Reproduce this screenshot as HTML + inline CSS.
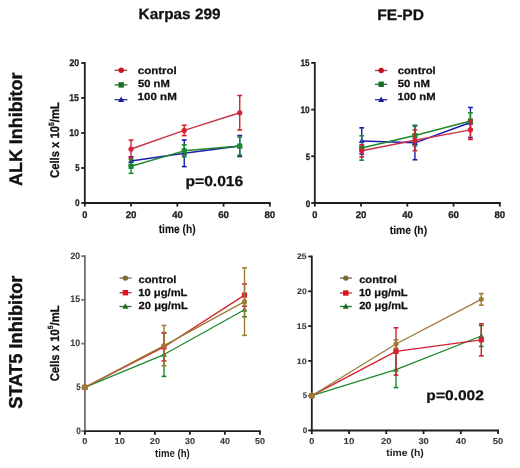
<!DOCTYPE html>
<html><head><meta charset="utf-8"><style>
html,body{margin:0;padding:0;background:#fff;}
svg{display:block;font-family:"Liberation Sans",sans-serif;filter:blur(0.35px);text-rendering:geometricPrecision;}
</style></head><body>
<svg width="520" height="468" viewBox="0 0 520 468">
<rect width="520" height="468" fill="#fff"/>
<text x="138.60" y="19.20" font-size="15.00" font-weight="bold" fill="#111" stroke="#111" stroke-width="0.25" textLength="81.97" lengthAdjust="spacingAndGlyphs">Karpas 299</text>
<text x="377.19" y="19.70" font-size="15.22" font-weight="bold" fill="#111" stroke="#111" stroke-width="0.25" textLength="46.84" lengthAdjust="spacingAndGlyphs">FE-PD</text>
<text transform="translate(22.20,185.50) rotate(-90)" x="-0.45" y="0" font-size="18.21" font-weight="bold" fill="#111" stroke="#111" stroke-width="0.35" textLength="113.36" lengthAdjust="spacingAndGlyphs">ALK Inhibitor</text>
<text transform="translate(22.00,408.20) rotate(-90)" x="-0.55" y="0" font-size="18.62" font-weight="bold" fill="#111" stroke="#111" stroke-width="0.35" textLength="133.23" lengthAdjust="spacingAndGlyphs">STAT5 Inhibitor</text>
<text transform="translate(58.80,177.50) rotate(-90) scale(0.8981,1)" x="-0.50" y="0" font-size="12.55" font-weight="bold" fill="#111" stroke="#111" stroke-width="0.3">Cells x 10<tspan font-size="7.53" dy="-5.27">5</tspan><tspan dy="5.27">/mL</tspan></text>
<text transform="translate(58.70,380.90) rotate(-90) scale(0.9105,1)" x="-0.50" y="0" font-size="12.41" font-weight="bold" fill="#111" stroke="#111" stroke-width="0.3">Cells x 10<tspan font-size="7.45" dy="-5.21">5</tspan><tspan dy="5.21">/mL</tspan></text>
<line x1="84.8" y1="62.10" x2="84.8" y2="203.00" stroke="#1e1e1e" stroke-width="1.8"/>
<line x1="83.90" y1="203" x2="270.70" y2="203" stroke="#1e1e1e" stroke-width="1.8"/>
<line x1="81.20" y1="203.00" x2="84.80" y2="203.00" stroke="#1e1e1e" stroke-width="1.8"/>
<line x1="81.20" y1="168.00" x2="84.80" y2="168.00" stroke="#1e1e1e" stroke-width="1.8"/>
<line x1="81.20" y1="133.00" x2="84.80" y2="133.00" stroke="#1e1e1e" stroke-width="1.8"/>
<line x1="81.20" y1="98.00" x2="84.80" y2="98.00" stroke="#1e1e1e" stroke-width="1.8"/>
<line x1="81.20" y1="63.00" x2="84.80" y2="63.00" stroke="#1e1e1e" stroke-width="1.8"/>
<line x1="84.80" y1="203.00" x2="84.80" y2="206.60" stroke="#1e1e1e" stroke-width="1.8"/>
<line x1="131.05" y1="203.00" x2="131.05" y2="206.60" stroke="#1e1e1e" stroke-width="1.8"/>
<line x1="177.30" y1="203.00" x2="177.30" y2="206.60" stroke="#1e1e1e" stroke-width="1.8"/>
<line x1="223.55" y1="203.00" x2="223.55" y2="206.60" stroke="#1e1e1e" stroke-width="1.8"/>
<line x1="269.80" y1="203.00" x2="269.80" y2="206.60" stroke="#1e1e1e" stroke-width="1.8"/>
<text x="75.07" y="205.90" font-size="9.86" font-weight="bold" fill="#222" stroke="#222" stroke-width="0.3" textLength="4.57" lengthAdjust="spacingAndGlyphs">0</text>
<text x="75.17" y="170.90" font-size="10.00" font-weight="bold" fill="#222" stroke="#222" stroke-width="0.3" textLength="4.34" lengthAdjust="spacingAndGlyphs">5</text>
<text x="69.17" y="135.90" font-size="9.86" font-weight="bold" fill="#222" stroke="#222" stroke-width="0.3" textLength="9.91" lengthAdjust="spacingAndGlyphs">10</text>
<text x="69.17" y="100.90" font-size="10.00" font-weight="bold" fill="#222" stroke="#222" stroke-width="0.3" textLength="9.77" lengthAdjust="spacingAndGlyphs">15</text>
<text x="69.40" y="65.90" font-size="9.86" font-weight="bold" fill="#222" stroke="#222" stroke-width="0.3" textLength="9.67" lengthAdjust="spacingAndGlyphs">20</text>
<text x="82.23" y="218.30" font-size="9.71" font-weight="bold" fill="#222" stroke="#222" stroke-width="0.3" textLength="5.15" lengthAdjust="spacingAndGlyphs">0</text>
<text x="125.71" y="218.30" font-size="9.71" font-weight="bold" fill="#222" stroke="#222" stroke-width="0.3" textLength="10.75" lengthAdjust="spacingAndGlyphs">20</text>
<text x="172.16" y="218.30" font-size="9.71" font-weight="bold" fill="#222" stroke="#222" stroke-width="0.3" textLength="10.54" lengthAdjust="spacingAndGlyphs">40</text>
<text x="218.21" y="218.30" font-size="9.71" font-weight="bold" fill="#222" stroke="#222" stroke-width="0.3" textLength="10.75" lengthAdjust="spacingAndGlyphs">60</text>
<text x="264.51" y="218.30" font-size="9.71" font-weight="bold" fill="#222" stroke="#222" stroke-width="0.3" textLength="10.70" lengthAdjust="spacingAndGlyphs">80</text>
<text x="158.70" y="233.30" font-size="12.00" font-weight="bold" fill="#111" stroke="#111" stroke-width="0.1" textLength="36.97" lengthAdjust="spacingAndGlyphs">time (h)</text>
<polyline points="131.05,161.00 184.24,153.30 239.74,146.02" fill="none" stroke="#1c1cb0" stroke-width="1.5" stroke-linejoin="round"/>
<line x1="131.05" y1="165.20" x2="131.05" y2="156.80" stroke="#1c1cb0" stroke-width="1.4"/>
<line x1="128.65" y1="165.20" x2="133.45" y2="165.20" stroke="#1c1cb0" stroke-width="1.6"/>
<line x1="128.65" y1="156.80" x2="133.45" y2="156.80" stroke="#1c1cb0" stroke-width="1.6"/>
<polygon points="131.05,157.90 133.95,163.10 128.15,163.10" fill="#1c1cb0"/>
<line x1="184.24" y1="166.60" x2="184.24" y2="140.00" stroke="#1c1cb0" stroke-width="1.4"/>
<line x1="181.84" y1="166.60" x2="186.64" y2="166.60" stroke="#1c1cb0" stroke-width="1.6"/>
<line x1="181.84" y1="140.00" x2="186.64" y2="140.00" stroke="#1c1cb0" stroke-width="1.6"/>
<polygon points="184.24,150.20 187.14,155.40 181.34,155.40" fill="#1c1cb0"/>
<line x1="239.74" y1="156.52" x2="239.74" y2="135.52" stroke="#1c1cb0" stroke-width="1.4"/>
<line x1="237.34" y1="156.52" x2="242.14" y2="156.52" stroke="#1c1cb0" stroke-width="1.6"/>
<line x1="237.34" y1="135.52" x2="242.14" y2="135.52" stroke="#1c1cb0" stroke-width="1.6"/>
<polygon points="239.74,142.92 242.64,148.12 236.84,148.12" fill="#1c1cb0"/>
<polyline points="131.05,166.32 184.24,150.85 239.74,146.09" fill="none" stroke="#1b8a2c" stroke-width="1.5" stroke-linejoin="round"/>
<line x1="131.05" y1="173.32" x2="131.05" y2="159.32" stroke="#1b8a2c" stroke-width="1.4"/>
<line x1="128.65" y1="173.32" x2="133.45" y2="173.32" stroke="#1b8a2c" stroke-width="1.6"/>
<line x1="128.65" y1="159.32" x2="133.45" y2="159.32" stroke="#1b8a2c" stroke-width="1.6"/>
<rect x="128.45" y="163.72" width="5.2" height="5.2" fill="#1b8a2c"/>
<line x1="184.24" y1="156.87" x2="184.24" y2="144.83" stroke="#1b8a2c" stroke-width="1.4"/>
<line x1="181.84" y1="156.87" x2="186.64" y2="156.87" stroke="#1b8a2c" stroke-width="1.6"/>
<line x1="181.84" y1="144.83" x2="186.64" y2="144.83" stroke="#1b8a2c" stroke-width="1.6"/>
<rect x="181.64" y="148.25" width="5.2" height="5.2" fill="#1b8a2c"/>
<line x1="239.74" y1="155.19" x2="239.74" y2="136.99" stroke="#1b8a2c" stroke-width="1.4"/>
<line x1="237.34" y1="155.19" x2="242.14" y2="155.19" stroke="#1b8a2c" stroke-width="1.6"/>
<line x1="237.34" y1="136.99" x2="242.14" y2="136.99" stroke="#1b8a2c" stroke-width="1.6"/>
<rect x="237.14" y="143.49" width="5.2" height="5.2" fill="#1b8a2c"/>
<polyline points="131.05,149.03 184.24,130.41 239.74,112.77" fill="none" stroke="#c8344a" stroke-width="1.5" stroke-linejoin="round"/>
<line x1="131.05" y1="157.99" x2="131.05" y2="140.07" stroke="#d42030" stroke-width="1.4"/>
<line x1="128.65" y1="157.99" x2="133.45" y2="157.99" stroke="#d42030" stroke-width="1.6"/>
<line x1="128.65" y1="140.07" x2="133.45" y2="140.07" stroke="#d42030" stroke-width="1.6"/>
<circle cx="131.05" cy="149.03" r="2.6" fill="#d42030"/>
<line x1="184.24" y1="135.59" x2="184.24" y2="125.23" stroke="#d42030" stroke-width="1.4"/>
<line x1="181.84" y1="135.59" x2="186.64" y2="135.59" stroke="#d42030" stroke-width="1.6"/>
<line x1="181.84" y1="125.23" x2="186.64" y2="125.23" stroke="#d42030" stroke-width="1.6"/>
<circle cx="184.24" cy="130.41" r="2.6" fill="#d42030"/>
<line x1="239.74" y1="130.06" x2="239.74" y2="95.48" stroke="#d42030" stroke-width="1.4"/>
<line x1="237.34" y1="130.06" x2="242.14" y2="130.06" stroke="#d42030" stroke-width="1.6"/>
<line x1="237.34" y1="95.48" x2="242.14" y2="95.48" stroke="#d42030" stroke-width="1.6"/>
<circle cx="239.74" cy="112.77" r="2.6" fill="#d42030"/>
<text x="185.49" y="186.20" font-size="14.43" font-weight="bold" fill="#111" stroke="#111" stroke-width="0.25" textLength="57.70" lengthAdjust="spacingAndGlyphs">p=0.016</text>
<line x1="114.60" y1="70.30" x2="127.30" y2="70.30" stroke="#b03a48" stroke-width="1.3"/>
<circle cx="121.20" cy="70.30" r="2.7" fill="#c8121e"/>
<line x1="114.60" y1="84.90" x2="127.30" y2="84.90" stroke="#2f6a38" stroke-width="1.3"/>
<rect x="118.50" y="82.20" width="5.4" height="5.4" fill="#17701f"/>
<line x1="114.60" y1="99.70" x2="127.30" y2="99.70" stroke="#30308e" stroke-width="1.3"/>
<polygon points="121.20,96.50 124.20,101.90 118.20,101.90" fill="#1a1a96"/>
<text x="137.84" y="74.10" font-size="10.30" font-weight="bold" fill="#111" stroke="#111" stroke-width="0.25" textLength="38.95" lengthAdjust="spacingAndGlyphs">control</text>
<text x="137.96" y="87.40" font-size="10.30" font-weight="bold" fill="#111" stroke="#111" stroke-width="0.25" textLength="31.81" lengthAdjust="spacingAndGlyphs">50 nM</text>
<text x="137.61" y="100.40" font-size="10.30" font-weight="bold" fill="#111" stroke="#111" stroke-width="0.25" textLength="39.21" lengthAdjust="spacingAndGlyphs">100 nM</text>
<line x1="314.8" y1="62.00" x2="314.8" y2="203.00" stroke="#1e1e1e" stroke-width="1.8"/>
<line x1="313.90" y1="203" x2="500.70" y2="203" stroke="#1e1e1e" stroke-width="1.8"/>
<line x1="311.20" y1="203.00" x2="314.80" y2="203.00" stroke="#1e1e1e" stroke-width="1.8"/>
<line x1="311.20" y1="156.30" x2="314.80" y2="156.30" stroke="#1e1e1e" stroke-width="1.8"/>
<line x1="311.20" y1="109.60" x2="314.80" y2="109.60" stroke="#1e1e1e" stroke-width="1.8"/>
<line x1="311.20" y1="62.90" x2="314.80" y2="62.90" stroke="#1e1e1e" stroke-width="1.8"/>
<line x1="314.80" y1="203.00" x2="314.80" y2="206.60" stroke="#1e1e1e" stroke-width="1.8"/>
<line x1="361.05" y1="203.00" x2="361.05" y2="206.60" stroke="#1e1e1e" stroke-width="1.8"/>
<line x1="407.30" y1="203.00" x2="407.30" y2="206.60" stroke="#1e1e1e" stroke-width="1.8"/>
<line x1="453.55" y1="203.00" x2="453.55" y2="206.60" stroke="#1e1e1e" stroke-width="1.8"/>
<line x1="499.80" y1="203.00" x2="499.80" y2="206.60" stroke="#1e1e1e" stroke-width="1.8"/>
<text x="305.77" y="206.50" font-size="9.43" font-weight="bold" fill="#222" stroke="#222" stroke-width="0.3" textLength="4.57" lengthAdjust="spacingAndGlyphs">0</text>
<text x="305.87" y="159.80" font-size="9.57" font-weight="bold" fill="#222" stroke="#222" stroke-width="0.3" textLength="4.34" lengthAdjust="spacingAndGlyphs">5</text>
<text x="300.50" y="113.10" font-size="9.43" font-weight="bold" fill="#222" stroke="#222" stroke-width="0.3" textLength="9.25" lengthAdjust="spacingAndGlyphs">10</text>
<text x="300.51" y="66.40" font-size="9.57" font-weight="bold" fill="#222" stroke="#222" stroke-width="0.3" textLength="9.12" lengthAdjust="spacingAndGlyphs">15</text>
<text x="312.23" y="218.30" font-size="9.71" font-weight="bold" fill="#222" stroke="#222" stroke-width="0.3" textLength="5.15" lengthAdjust="spacingAndGlyphs">0</text>
<text x="355.71" y="218.30" font-size="9.71" font-weight="bold" fill="#222" stroke="#222" stroke-width="0.3" textLength="10.75" lengthAdjust="spacingAndGlyphs">20</text>
<text x="402.16" y="218.30" font-size="9.71" font-weight="bold" fill="#222" stroke="#222" stroke-width="0.3" textLength="10.54" lengthAdjust="spacingAndGlyphs">40</text>
<text x="448.21" y="218.30" font-size="9.71" font-weight="bold" fill="#222" stroke="#222" stroke-width="0.3" textLength="10.75" lengthAdjust="spacingAndGlyphs">60</text>
<text x="494.51" y="218.30" font-size="9.71" font-weight="bold" fill="#222" stroke="#222" stroke-width="0.3" textLength="10.70" lengthAdjust="spacingAndGlyphs">80</text>
<text x="389.70" y="233.50" font-size="11.45" font-weight="bold" fill="#111" stroke="#111" stroke-width="0.1" textLength="37.48" lengthAdjust="spacingAndGlyphs">time (h)</text>
<polyline points="361.74,140.96 414.93,142.84 470.43,122.54" fill="none" stroke="#1c1cb0" stroke-width="1.5" stroke-linejoin="round"/>
<line x1="361.74" y1="154.12" x2="361.74" y2="127.80" stroke="#1c1cb0" stroke-width="1.4"/>
<line x1="359.34" y1="154.12" x2="364.14" y2="154.12" stroke="#1c1cb0" stroke-width="1.6"/>
<line x1="359.34" y1="127.80" x2="364.14" y2="127.80" stroke="#1c1cb0" stroke-width="1.6"/>
<polygon points="361.74,137.86 364.64,143.06 358.84,143.06" fill="#1c1cb0"/>
<line x1="414.93" y1="159.76" x2="414.93" y2="125.92" stroke="#1c1cb0" stroke-width="1.4"/>
<line x1="412.53" y1="159.76" x2="417.33" y2="159.76" stroke="#1c1cb0" stroke-width="1.6"/>
<line x1="412.53" y1="125.92" x2="417.33" y2="125.92" stroke="#1c1cb0" stroke-width="1.6"/>
<polygon points="414.93,139.74 417.83,144.94 412.03,144.94" fill="#1c1cb0"/>
<line x1="470.43" y1="137.58" x2="470.43" y2="107.50" stroke="#1c1cb0" stroke-width="1.4"/>
<line x1="468.03" y1="137.58" x2="472.83" y2="137.58" stroke="#1c1cb0" stroke-width="1.6"/>
<line x1="468.03" y1="107.50" x2="472.83" y2="107.50" stroke="#1c1cb0" stroke-width="1.6"/>
<polygon points="470.43,119.44 473.33,124.64 467.53,124.64" fill="#1c1cb0"/>
<polyline points="361.74,148.01 414.93,135.60 470.43,121.03" fill="none" stroke="#1b8a2c" stroke-width="1.5" stroke-linejoin="round"/>
<line x1="361.74" y1="160.23" x2="361.74" y2="135.79" stroke="#1b8a2c" stroke-width="1.4"/>
<line x1="359.34" y1="160.23" x2="364.14" y2="160.23" stroke="#1b8a2c" stroke-width="1.6"/>
<line x1="359.34" y1="135.79" x2="364.14" y2="135.79" stroke="#1b8a2c" stroke-width="1.6"/>
<rect x="359.14" y="145.41" width="5.2" height="5.2" fill="#1b8a2c"/>
<line x1="414.93" y1="145.94" x2="414.93" y2="125.26" stroke="#1b8a2c" stroke-width="1.4"/>
<line x1="412.53" y1="145.94" x2="417.33" y2="145.94" stroke="#1b8a2c" stroke-width="1.6"/>
<line x1="412.53" y1="125.26" x2="417.33" y2="125.26" stroke="#1b8a2c" stroke-width="1.6"/>
<rect x="412.33" y="133.00" width="5.2" height="5.2" fill="#1b8a2c"/>
<line x1="470.43" y1="129.21" x2="470.43" y2="112.85" stroke="#1b8a2c" stroke-width="1.4"/>
<line x1="468.03" y1="129.21" x2="472.83" y2="129.21" stroke="#1b8a2c" stroke-width="1.6"/>
<line x1="468.03" y1="112.85" x2="472.83" y2="112.85" stroke="#1b8a2c" stroke-width="1.6"/>
<rect x="467.83" y="118.43" width="5.2" height="5.2" fill="#1b8a2c"/>
<polyline points="361.74,150.83 414.93,140.30 470.43,129.87" fill="none" stroke="#c8344a" stroke-width="1.5" stroke-linejoin="round"/>
<line x1="361.74" y1="156.94" x2="361.74" y2="144.72" stroke="#d42030" stroke-width="1.4"/>
<line x1="359.34" y1="156.94" x2="364.14" y2="156.94" stroke="#d42030" stroke-width="1.6"/>
<line x1="359.34" y1="144.72" x2="364.14" y2="144.72" stroke="#d42030" stroke-width="1.6"/>
<circle cx="361.74" cy="150.83" r="2.6" fill="#d42030"/>
<line x1="414.93" y1="150.64" x2="414.93" y2="129.96" stroke="#d42030" stroke-width="1.4"/>
<line x1="412.53" y1="150.64" x2="417.33" y2="150.64" stroke="#d42030" stroke-width="1.6"/>
<line x1="412.53" y1="129.96" x2="417.33" y2="129.96" stroke="#d42030" stroke-width="1.6"/>
<circle cx="414.93" cy="140.30" r="2.6" fill="#d42030"/>
<line x1="470.43" y1="139.46" x2="470.43" y2="120.28" stroke="#d42030" stroke-width="1.4"/>
<line x1="468.03" y1="139.46" x2="472.83" y2="139.46" stroke="#d42030" stroke-width="1.6"/>
<line x1="468.03" y1="120.28" x2="472.83" y2="120.28" stroke="#d42030" stroke-width="1.6"/>
<circle cx="470.43" cy="129.87" r="2.6" fill="#d42030"/>
<line x1="375.00" y1="70.50" x2="387.30" y2="70.50" stroke="#b03a48" stroke-width="1.3"/>
<circle cx="381.20" cy="70.50" r="2.7" fill="#c8121e"/>
<line x1="375.00" y1="84.30" x2="387.30" y2="84.30" stroke="#2f6a38" stroke-width="1.3"/>
<rect x="378.50" y="81.60" width="5.4" height="5.4" fill="#17701f"/>
<line x1="375.00" y1="99.70" x2="387.30" y2="99.70" stroke="#30308e" stroke-width="1.3"/>
<polygon points="381.20,96.50 384.20,101.90 378.20,101.90" fill="#1a1a96"/>
<text x="397.65" y="74.10" font-size="10.30" font-weight="bold" fill="#111" stroke="#111" stroke-width="0.25" textLength="38.12" lengthAdjust="spacingAndGlyphs">control</text>
<text x="397.76" y="87.30" font-size="10.30" font-weight="bold" fill="#111" stroke="#111" stroke-width="0.25" textLength="32.12" lengthAdjust="spacingAndGlyphs">50 nM</text>
<text x="397.42" y="100.30" font-size="10.30" font-weight="bold" fill="#111" stroke="#111" stroke-width="0.25" textLength="38.17" lengthAdjust="spacingAndGlyphs">100 nM</text>
<line x1="84.9" y1="255.20" x2="84.9" y2="431.10" stroke="#707070" stroke-width="1.8"/>
<line x1="84.00" y1="431.1" x2="260.80" y2="431.1" stroke="#1e1e1e" stroke-width="1.8"/>
<line x1="81.30" y1="431.10" x2="84.90" y2="431.10" stroke="#707070" stroke-width="1.8"/>
<line x1="81.30" y1="387.35" x2="84.90" y2="387.35" stroke="#707070" stroke-width="1.8"/>
<line x1="81.30" y1="343.60" x2="84.90" y2="343.60" stroke="#707070" stroke-width="1.8"/>
<line x1="81.30" y1="299.85" x2="84.90" y2="299.85" stroke="#707070" stroke-width="1.8"/>
<line x1="81.30" y1="256.10" x2="84.90" y2="256.10" stroke="#707070" stroke-width="1.8"/>
<line x1="84.90" y1="431.10" x2="84.90" y2="434.70" stroke="#1e1e1e" stroke-width="1.8"/>
<line x1="119.90" y1="431.10" x2="119.90" y2="434.70" stroke="#1e1e1e" stroke-width="1.8"/>
<line x1="154.90" y1="431.10" x2="154.90" y2="434.70" stroke="#1e1e1e" stroke-width="1.8"/>
<line x1="189.90" y1="431.10" x2="189.90" y2="434.70" stroke="#1e1e1e" stroke-width="1.8"/>
<line x1="224.90" y1="431.10" x2="224.90" y2="434.70" stroke="#1e1e1e" stroke-width="1.8"/>
<line x1="259.90" y1="431.10" x2="259.90" y2="434.70" stroke="#1e1e1e" stroke-width="1.8"/>
<text x="76.17" y="433.70" font-size="9.29" font-weight="bold" fill="#3a3a3a" stroke="#3a3a3a" stroke-width="0.1" textLength="4.57" lengthAdjust="spacingAndGlyphs">0</text>
<text x="76.27" y="389.95" font-size="9.42" font-weight="bold" fill="#3a3a3a" stroke="#3a3a3a" stroke-width="0.1" textLength="4.34" lengthAdjust="spacingAndGlyphs">5</text>
<text x="70.27" y="346.20" font-size="9.29" font-weight="bold" fill="#3a3a3a" stroke="#3a3a3a" stroke-width="0.1" textLength="9.91" lengthAdjust="spacingAndGlyphs">10</text>
<text x="70.27" y="302.45" font-size="9.42" font-weight="bold" fill="#3a3a3a" stroke="#3a3a3a" stroke-width="0.1" textLength="9.77" lengthAdjust="spacingAndGlyphs">15</text>
<text x="70.50" y="258.70" font-size="9.29" font-weight="bold" fill="#3a3a3a" stroke="#3a3a3a" stroke-width="0.1" textLength="9.67" lengthAdjust="spacingAndGlyphs">20</text>
<text x="82.33" y="443.90" font-size="8.57" font-weight="bold" fill="#3a3a3a" stroke="#3a3a3a" stroke-width="0.1" textLength="5.15" lengthAdjust="spacingAndGlyphs">0</text>
<text x="114.64" y="443.90" font-size="8.57" font-weight="bold" fill="#3a3a3a" stroke="#3a3a3a" stroke-width="0.1" textLength="10.35" lengthAdjust="spacingAndGlyphs">10</text>
<text x="149.88" y="443.90" font-size="8.57" font-weight="bold" fill="#3a3a3a" stroke="#3a3a3a" stroke-width="0.1" textLength="10.10" lengthAdjust="spacingAndGlyphs">20</text>
<text x="184.98" y="443.90" font-size="8.57" font-weight="bold" fill="#3a3a3a" stroke="#3a3a3a" stroke-width="0.1" textLength="10.01" lengthAdjust="spacingAndGlyphs">30</text>
<text x="220.07" y="443.90" font-size="8.57" font-weight="bold" fill="#3a3a3a" stroke="#3a3a3a" stroke-width="0.1" textLength="9.91" lengthAdjust="spacingAndGlyphs">40</text>
<text x="254.93" y="443.90" font-size="8.57" font-weight="bold" fill="#3a3a3a" stroke="#3a3a3a" stroke-width="0.1" textLength="10.05" lengthAdjust="spacingAndGlyphs">50</text>
<text x="155.10" y="456.90" font-size="11.17" font-weight="bold" fill="#222" textLength="34.74" lengthAdjust="spacingAndGlyphs">time (h)</text>
<polyline points="84.90,387.35 164.00,354.54 244.50,309.74" fill="none" stroke="#1b8a2c" stroke-width="1.3" stroke-linejoin="round"/>
<polygon points="84.90,384.25 87.80,389.45 82.00,389.45" fill="#1b8a2c"/>
<line x1="164.00" y1="376.41" x2="164.00" y2="332.66" stroke="#1b8a2c" stroke-width="1.4"/>
<line x1="161.60" y1="376.41" x2="166.40" y2="376.41" stroke="#1b8a2c" stroke-width="1.6"/>
<line x1="161.60" y1="332.66" x2="166.40" y2="332.66" stroke="#1b8a2c" stroke-width="1.6"/>
<polygon points="164.00,351.44 166.90,356.64 161.10,356.64" fill="#1b8a2c"/>
<line x1="244.50" y1="316.74" x2="244.50" y2="302.74" stroke="#1b8a2c" stroke-width="1.4"/>
<line x1="242.10" y1="316.74" x2="246.90" y2="316.74" stroke="#1b8a2c" stroke-width="1.6"/>
<line x1="242.10" y1="302.74" x2="246.90" y2="302.74" stroke="#1b8a2c" stroke-width="1.6"/>
<polygon points="244.50,306.64 247.40,311.84 241.60,311.84" fill="#1b8a2c"/>
<polyline points="84.90,387.35 164.00,346.93 244.50,295.12" fill="none" stroke="#d42030" stroke-width="1.3" stroke-linejoin="round"/>
<rect x="82.30" y="384.75" width="5.2" height="5.2" fill="#d42030"/>
<line x1="164.00" y1="360.93" x2="164.00" y2="332.93" stroke="#d42030" stroke-width="1.4"/>
<line x1="161.60" y1="360.93" x2="166.40" y2="360.93" stroke="#d42030" stroke-width="1.6"/>
<line x1="161.60" y1="332.93" x2="166.40" y2="332.93" stroke="#d42030" stroke-width="1.6"/>
<rect x="161.40" y="344.32" width="5.2" height="5.2" fill="#d42030"/>
<line x1="244.50" y1="306.24" x2="244.50" y2="284.01" stroke="#d42030" stroke-width="1.4"/>
<line x1="242.10" y1="306.24" x2="246.90" y2="306.24" stroke="#d42030" stroke-width="1.6"/>
<line x1="242.10" y1="284.01" x2="246.90" y2="284.01" stroke="#d42030" stroke-width="1.6"/>
<rect x="241.90" y="292.52" width="5.2" height="5.2" fill="#d42030"/>
<polyline points="84.90,387.35 164.00,345.61 244.50,301.60" fill="none" stroke="#9c7b35" stroke-width="1.3" stroke-linejoin="round"/>
<circle cx="84.90" cy="387.35" r="3.1" fill="#9c7b35"/>
<line x1="164.00" y1="365.74" x2="164.00" y2="325.49" stroke="#9c7b35" stroke-width="1.4"/>
<line x1="161.60" y1="365.74" x2="166.40" y2="365.74" stroke="#9c7b35" stroke-width="1.6"/>
<line x1="161.60" y1="325.49" x2="166.40" y2="325.49" stroke="#9c7b35" stroke-width="1.6"/>
<circle cx="164.00" cy="345.61" r="2.5" fill="#9c7b35"/>
<line x1="244.50" y1="335.38" x2="244.50" y2="267.83" stroke="#9c7b35" stroke-width="1.4"/>
<line x1="242.10" y1="335.38" x2="246.90" y2="335.38" stroke="#9c7b35" stroke-width="1.6"/>
<line x1="242.10" y1="267.83" x2="246.90" y2="267.83" stroke="#9c7b35" stroke-width="1.6"/>
<circle cx="244.50" cy="301.60" r="2.5" fill="#9c7b35"/>
<line x1="119.50" y1="278.10" x2="131.50" y2="278.10" stroke="#6e6448" stroke-width="1.3"/>
<circle cx="125.40" cy="278.10" r="2.7" fill="#7d6a32"/>
<line x1="119.50" y1="292.70" x2="131.50" y2="292.70" stroke="#b03a48" stroke-width="1.3"/>
<rect x="122.70" y="290.00" width="5.4" height="5.4" fill="#e0101c"/>
<line x1="119.50" y1="306.50" x2="131.50" y2="306.50" stroke="#2f6a38" stroke-width="1.3"/>
<polygon points="125.40,303.30 128.40,308.70 122.40,308.70" fill="#17701f"/>
<text x="138.55" y="283.00" font-size="10.30" font-weight="bold" fill="#111" stroke="#111" stroke-width="0.25" textLength="37.92" lengthAdjust="spacingAndGlyphs">control</text>
<text x="138.33" y="296.00" font-size="10.30" font-weight="bold" fill="#111" stroke="#111" stroke-width="0.25" textLength="49.11" lengthAdjust="spacingAndGlyphs">10 μg/mL</text>
<text x="138.61" y="309.20" font-size="10.30" font-weight="bold" fill="#111" stroke="#111" stroke-width="0.25" textLength="49.13" lengthAdjust="spacingAndGlyphs">20 μg/mL</text>
<line x1="311.8" y1="255.60" x2="311.8" y2="430.50" stroke="#1e1e1e" stroke-width="1.8"/>
<line x1="310.90" y1="430.5" x2="498.95" y2="430.5" stroke="#1e1e1e" stroke-width="1.8"/>
<line x1="308.20" y1="430.50" x2="311.80" y2="430.50" stroke="#1e1e1e" stroke-width="1.8"/>
<line x1="308.20" y1="395.70" x2="311.80" y2="395.70" stroke="#1e1e1e" stroke-width="1.8"/>
<line x1="308.20" y1="360.90" x2="311.80" y2="360.90" stroke="#1e1e1e" stroke-width="1.8"/>
<line x1="308.20" y1="326.10" x2="311.80" y2="326.10" stroke="#1e1e1e" stroke-width="1.8"/>
<line x1="308.20" y1="291.30" x2="311.80" y2="291.30" stroke="#1e1e1e" stroke-width="1.8"/>
<line x1="308.20" y1="256.50" x2="311.80" y2="256.50" stroke="#1e1e1e" stroke-width="1.8"/>
<line x1="311.80" y1="430.50" x2="311.80" y2="434.10" stroke="#1e1e1e" stroke-width="1.8"/>
<line x1="349.05" y1="430.50" x2="349.05" y2="434.10" stroke="#1e1e1e" stroke-width="1.8"/>
<line x1="386.30" y1="430.50" x2="386.30" y2="434.10" stroke="#1e1e1e" stroke-width="1.8"/>
<line x1="423.55" y1="430.50" x2="423.55" y2="434.10" stroke="#1e1e1e" stroke-width="1.8"/>
<line x1="460.80" y1="430.50" x2="460.80" y2="434.10" stroke="#1e1e1e" stroke-width="1.8"/>
<line x1="498.05" y1="430.50" x2="498.05" y2="434.10" stroke="#1e1e1e" stroke-width="1.8"/>
<text x="302.77" y="433.10" font-size="8.00" font-weight="bold" fill="#3a3a3a" stroke="#3a3a3a" stroke-width="0.1" textLength="4.57" lengthAdjust="spacingAndGlyphs">0</text>
<text x="302.87" y="398.30" font-size="8.12" font-weight="bold" fill="#3a3a3a" stroke="#3a3a3a" stroke-width="0.1" textLength="4.34" lengthAdjust="spacingAndGlyphs">5</text>
<text x="296.87" y="363.50" font-size="8.00" font-weight="bold" fill="#3a3a3a" stroke="#3a3a3a" stroke-width="0.1" textLength="9.91" lengthAdjust="spacingAndGlyphs">10</text>
<text x="296.87" y="328.70" font-size="8.12" font-weight="bold" fill="#3a3a3a" stroke="#3a3a3a" stroke-width="0.1" textLength="9.77" lengthAdjust="spacingAndGlyphs">15</text>
<text x="297.10" y="293.90" font-size="8.00" font-weight="bold" fill="#3a3a3a" stroke="#3a3a3a" stroke-width="0.1" textLength="9.67" lengthAdjust="spacingAndGlyphs">20</text>
<text x="297.10" y="259.10" font-size="8.00" font-weight="bold" fill="#3a3a3a" stroke="#3a3a3a" stroke-width="0.1" textLength="9.53" lengthAdjust="spacingAndGlyphs">25</text>
<text x="309.23" y="443.50" font-size="8.57" font-weight="bold" fill="#3a3a3a" stroke="#3a3a3a" stroke-width="0.1" textLength="5.15" lengthAdjust="spacingAndGlyphs">0</text>
<text x="343.57" y="443.50" font-size="8.57" font-weight="bold" fill="#3a3a3a" stroke="#3a3a3a" stroke-width="0.1" textLength="10.79" lengthAdjust="spacingAndGlyphs">10</text>
<text x="381.07" y="443.50" font-size="8.57" font-weight="bold" fill="#3a3a3a" stroke="#3a3a3a" stroke-width="0.1" textLength="10.53" lengthAdjust="spacingAndGlyphs">20</text>
<text x="418.42" y="443.50" font-size="8.57" font-weight="bold" fill="#3a3a3a" stroke="#3a3a3a" stroke-width="0.1" textLength="10.43" lengthAdjust="spacingAndGlyphs">30</text>
<text x="455.76" y="443.50" font-size="8.57" font-weight="bold" fill="#3a3a3a" stroke="#3a3a3a" stroke-width="0.1" textLength="10.33" lengthAdjust="spacingAndGlyphs">40</text>
<text x="492.87" y="443.50" font-size="8.57" font-weight="bold" fill="#3a3a3a" stroke="#3a3a3a" stroke-width="0.1" textLength="10.48" lengthAdjust="spacingAndGlyphs">50</text>
<text x="386.20" y="455.80" font-size="9.93" font-weight="bold" fill="#222" textLength="37.58" lengthAdjust="spacingAndGlyphs">time (h)</text>
<polyline points="311.80,395.70 395.99,369.67 481.29,335.98" fill="none" stroke="#1b8a2c" stroke-width="1.3" stroke-linejoin="round"/>
<polygon points="311.80,392.60 314.70,397.80 308.90,397.80" fill="#1b8a2c"/>
<line x1="395.99" y1="387.56" x2="395.99" y2="351.78" stroke="#1b8a2c" stroke-width="1.4"/>
<line x1="393.59" y1="387.56" x2="398.38" y2="387.56" stroke="#1b8a2c" stroke-width="1.6"/>
<line x1="393.59" y1="351.78" x2="398.38" y2="351.78" stroke="#1b8a2c" stroke-width="1.6"/>
<polygon points="395.99,366.57 398.89,371.77 393.08,371.77" fill="#1b8a2c"/>
<line x1="481.29" y1="346.42" x2="481.29" y2="325.54" stroke="#1b8a2c" stroke-width="1.4"/>
<line x1="478.89" y1="346.42" x2="483.69" y2="346.42" stroke="#1b8a2c" stroke-width="1.6"/>
<line x1="478.89" y1="325.54" x2="483.69" y2="325.54" stroke="#1b8a2c" stroke-width="1.6"/>
<polygon points="481.29,332.88 484.19,338.08 478.39,338.08" fill="#1b8a2c"/>
<polyline points="311.80,395.70 395.99,351.43 481.29,339.81" fill="none" stroke="#d42030" stroke-width="1.3" stroke-linejoin="round"/>
<rect x="309.20" y="393.10" width="5.2" height="5.2" fill="#d42030"/>
<line x1="395.99" y1="375.10" x2="395.99" y2="327.77" stroke="#d42030" stroke-width="1.4"/>
<line x1="393.59" y1="375.10" x2="398.38" y2="375.10" stroke="#d42030" stroke-width="1.6"/>
<line x1="393.59" y1="327.77" x2="398.38" y2="327.77" stroke="#d42030" stroke-width="1.6"/>
<rect x="393.38" y="348.83" width="5.2" height="5.2" fill="#d42030"/>
<line x1="481.29" y1="355.82" x2="481.29" y2="323.80" stroke="#d42030" stroke-width="1.4"/>
<line x1="478.89" y1="355.82" x2="483.69" y2="355.82" stroke="#d42030" stroke-width="1.6"/>
<line x1="478.89" y1="323.80" x2="483.69" y2="323.80" stroke="#d42030" stroke-width="1.6"/>
<rect x="478.69" y="337.21" width="5.2" height="5.2" fill="#d42030"/>
<polyline points="311.80,395.70 395.99,343.99 481.29,299.37" fill="none" stroke="#9c7b35" stroke-width="1.3" stroke-linejoin="round"/>
<circle cx="311.80" cy="395.70" r="3.1" fill="#9c7b35"/>
<line x1="395.99" y1="348.16" x2="395.99" y2="339.81" stroke="#9c7b35" stroke-width="1.4"/>
<line x1="393.59" y1="348.16" x2="398.38" y2="348.16" stroke="#9c7b35" stroke-width="1.6"/>
<line x1="393.59" y1="339.81" x2="398.38" y2="339.81" stroke="#9c7b35" stroke-width="1.6"/>
<circle cx="395.99" cy="343.99" r="2.5" fill="#9c7b35"/>
<line x1="481.29" y1="305.15" x2="481.29" y2="293.60" stroke="#9c7b35" stroke-width="1.4"/>
<line x1="478.89" y1="305.15" x2="483.69" y2="305.15" stroke="#9c7b35" stroke-width="1.6"/>
<line x1="478.89" y1="293.60" x2="483.69" y2="293.60" stroke="#9c7b35" stroke-width="1.6"/>
<circle cx="481.29" cy="299.37" r="2.5" fill="#9c7b35"/>
<text x="426.39" y="400.10" font-size="13.86" font-weight="bold" fill="#111" stroke="#111" stroke-width="0.25" textLength="57.57" lengthAdjust="spacingAndGlyphs">p=0.002</text>
<line x1="339.90" y1="278.10" x2="351.90" y2="278.10" stroke="#6e6448" stroke-width="1.3"/>
<circle cx="345.80" cy="278.10" r="2.7" fill="#7d6a32"/>
<line x1="339.90" y1="293.00" x2="351.90" y2="293.00" stroke="#b03a48" stroke-width="1.3"/>
<rect x="343.10" y="290.30" width="5.4" height="5.4" fill="#e0101c"/>
<line x1="339.90" y1="306.50" x2="351.90" y2="306.50" stroke="#2f6a38" stroke-width="1.3"/>
<polygon points="345.80,303.30 348.80,308.70 342.80,308.70" fill="#17701f"/>
<text x="359.15" y="283.00" font-size="10.30" font-weight="bold" fill="#111" stroke="#111" stroke-width="0.25" textLength="37.81" lengthAdjust="spacingAndGlyphs">control</text>
<text x="358.93" y="296.00" font-size="10.30" font-weight="bold" fill="#111" stroke="#111" stroke-width="0.25" textLength="48.71" lengthAdjust="spacingAndGlyphs">10 μg/mL</text>
<text x="359.21" y="309.20" font-size="10.30" font-weight="bold" fill="#111" stroke="#111" stroke-width="0.25" textLength="48.63" lengthAdjust="spacingAndGlyphs">20 μg/mL</text>
</svg></body></html>
